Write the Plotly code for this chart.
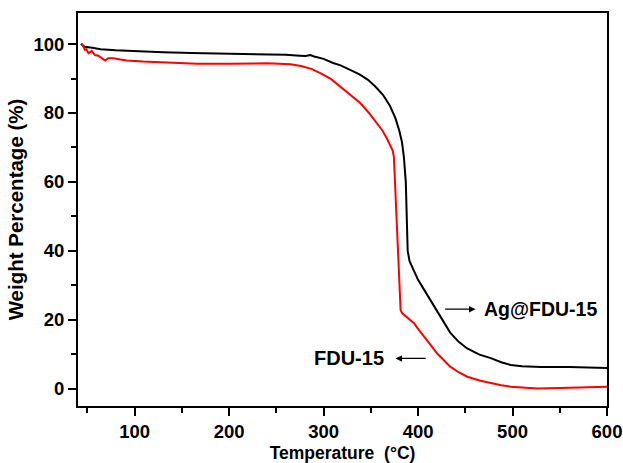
import plotly.graph_objects as go

# Ag@FDU-15 (black)
ag_temp = [43, 47, 55, 64, 80, 100, 130, 160, 200, 233, 260, 275, 281, 286, 290, 300, 310, 318,
           328, 338, 347, 355, 363, 370, 376, 380, 383, 385, 387, 388, 389, 391, 395, 400, 406,
           413, 420, 427, 434, 443, 452, 465, 477, 488, 498, 510, 530, 560, 580, 600]
ag_weight = [100.0, 99.2, 98.9, 98.5, 98.2, 97.9, 97.6, 97.4, 97.2, 97.0, 96.9, 96.6, 96.5, 96.8,
             96.4, 95.7, 94.5, 93.8, 92.5, 91.2, 89.6, 87.6, 85.2, 82.2, 78.5, 75.0, 71.5, 67.2,
             60.0, 45.0, 40.0, 37.0, 34.4, 31.6, 28.9, 25.8, 22.8, 19.4, 16.3, 13.6, 11.7, 9.9,
             8.9, 7.7, 6.9, 6.5, 6.3, 6.3, 6.2, 6.0]

# FDU-15 (red)
fdu_temp = [44, 46, 47.4, 49, 51, 54.5, 58, 61.6, 65, 68.6, 72, 77.5, 85, 91.5, 109, 144, 166, 200,
            240, 265, 276, 287, 297, 308, 318, 328, 339, 348, 357, 362, 367, 371, 373, 374.4, 378,
            381.5, 383.3, 390, 395.6, 401, 406, 413, 420, 427, 434, 443, 452, 465, 477, 488, 498,
            510, 526, 550, 572, 590, 600]
fdu_weight = [100.2, 99.0, 98.3, 98.5, 97.3, 98.0, 96.8, 96.6, 96.0, 95.2, 95.9, 95.9, 95.5, 95.2,
              94.9, 94.4, 94.3, 94.3, 94.4, 94.1, 93.6, 92.8, 91.5, 89.8, 87.6, 85.4, 82.8, 80.0,
              77.0, 75.0, 72.6, 70.3, 69.2, 67.3, 45.0, 22.8, 21.9, 20.4, 19.0, 17.0, 15.1, 12.8,
              10.3, 8.2, 6.4, 4.8, 3.5, 2.4, 1.6, 1.0, 0.6, 0.3, 0.1, 0.2, 0.4, 0.5, 0.6]

FONT = "Liberation Sans, Arial, Noto Sans CJK SC, sans-serif"

fig = go.Figure()
fig.add_trace(go.Scatter(x=ag_temp, y=ag_weight, mode="lines", name="Ag@FDU-15",
                         line=dict(color="black", width=2)))
fig.add_trace(go.Scatter(x=fdu_temp, y=fdu_weight, mode="lines", name="FDU-15",
                         line=dict(color="#ff0000", width=2)))

# labels with arrows
fig.add_annotation(x=460.8, y=23.1, ax=427, ay=23.1, axref="x", ayref="y", xref="x", yref="y",
                   text="", showarrow=True, arrowhead=2, arrowsize=1, arrowwidth=1.3,
                   arrowcolor="black")
fig.add_annotation(x=467.5, y=23.1, xref="x", yref="y", text="Ag@FDU-15", showarrow=False,
                   xanchor="left", yanchor="middle",
                   font=dict(family=FONT, size=19.5, color="black", weight="bold"))
fig.add_annotation(x=376.2, y=8.8, ax=409.7, ay=8.8, axref="x", ayref="y", xref="x", yref="y",
                   text="", showarrow=True, arrowhead=2, arrowsize=1, arrowwidth=1.3,
                   arrowcolor="black")
fig.add_annotation(x=366, y=8.8, xref="x", yref="y", text="FDU-15", showarrow=False,
                   xanchor="right", yanchor="middle",
                   font=dict(family=FONT, size=20, color="black", weight="bold"))

axis_common = dict(showgrid=False, zeroline=False, showline=True, linecolor="black", linewidth=2,
                   mirror=True, ticks="outside", ticklen=8, tickwidth=2, tickcolor="black",
                   automargin=False,
                   tickfont=dict(family=FONT, size=18.5, color="black", weight="bold"))

fig.update_xaxes(range=[40, 600], tick0=0, dtick=100,
                 minor=dict(ticks="outside", ticklen=5, tickwidth=2, tickcolor="black",
                            dtick=50, tick0=0, showgrid=False),
                 title=dict(text="\u00a0\u00a0\u00a0\u00a0Temperature\u00a0 (°C)", standoff=6,
                            font=dict(family=FONT, size=17.5, color="black", weight="bold")),
                 **axis_common)
fig.update_yaxes(range=[-5, 109], tick0=0, dtick=20,
                 minor=dict(ticks="outside", ticklen=5, tickwidth=2, tickcolor="black",
                            dtick=10, tick0=0, showgrid=False),
                 title=dict(text="Weight Percentage (%)", standoff=4,
                            font=dict(family=FONT, size=20.5, color="black", weight="bold")),
                 **axis_common)

fig.update_layout(width=623, height=463, autosize=False, showlegend=False,
                  plot_bgcolor="white", paper_bgcolor="white",
                  margin=dict(l=78, r=16, t=13, b=57))

fig.write_html("out.html", config={"displayModeBar": False, "staticPlot": True},
               post_script="document.body.style.margin='0';")
